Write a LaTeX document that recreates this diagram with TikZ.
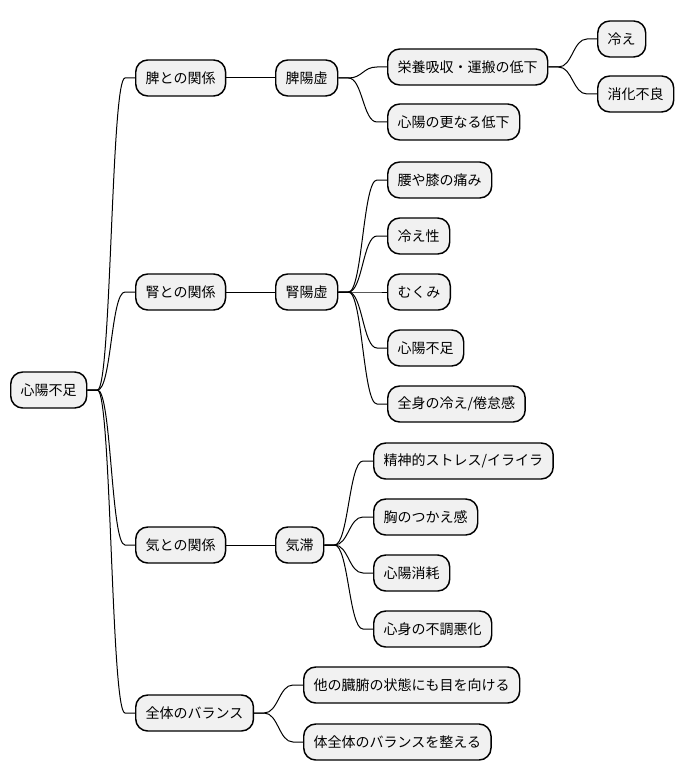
\documentclass[tikz,border=0pt]{standalone}
\usepackage{fontspec}
\setmainfont{Noto Sans CJK JP}
\usetikzlibrary{calc}
\tikzset{
  mm/.style={draw=black, line width=1.1pt, fill=black!5.5, rounded corners=9pt,
    minimum height=27pt, inner xsep=7.5pt, inner ysep=0pt, anchor=west,
    font=\fontsize{10.5pt}{12pt}\selectfont},
  conn/.style={draw=black, line width=0.75pt},
}
\newcommand\link[2]{\draw[conn] (#1.east) -- ([xshift=7.5pt]#1.east) .. controls ([xshift=18pt]#1.east) and ([xshift=-18pt]#2.west) .. ([xshift=-7.5pt]#2.west) -- (#2.west);}
\begin{document}
\begin{tikzpicture}[x=0.75pt,y=-0.75pt]
\useasboundingbox (0,0) rectangle (684,781);
\node[mm] (root) at (10,390) {心陽不足};
\node[mm] (hi) at (135,78) {脾との関係};
\node[mm] (jin) at (135,292) {腎との関係};
\node[mm] (ki) at (135,545) {気との関係};
\node[mm] (zen) at (135,713) {全体のバランス};
\node[mm] (hiyo) at (275,78) {脾陽虚};
\node[mm] (jinyo) at (275,292) {腎陽虚};
\node[mm] (kitai) at (275,545) {気滞};
\node[mm] (eiyo) at (387,67) {栄養吸収・運搬の低下};
\node[mm] (sarani) at (387,122) {心陽の更なる低下};
\node[mm] (hie1) at (597,39) {冷え};
\node[mm] (shoka) at (597,94) {消化不良};
\node[mm] (koshi) at (387,180) {腰や膝の痛み};
\node[mm] (hiesho) at (387,236) {冷え性};
\node[mm] (mukumi) at (387,292) {むくみ};
\node[mm] (shinyo) at (387,348) {心陽不足};
\node[mm] (zenshin) at (387,404) {全身の冷え/倦怠感};
\node[mm] (seishin) at (373,461) {精神的ストレス/イライラ};
\node[mm] (mune) at (373,517) {胸のつかえ感};
\node[mm] (shoumo) at (373,573) {心陽消耗};
\node[mm] (shinshin) at (373,629) {心身の不調悪化};
\node[mm] (hoka) at (303,685) {他の臓腑の状態にも目を向ける};
\node[mm] (karada) at (303,742) {体全体のバランスを整える};
\link{root}{hi}
\link{root}{jin}
\link{root}{ki}
\link{root}{zen}
\draw[conn] (hi) -- (hiyo);
\draw[conn] (jin) -- (jinyo);
\draw[conn] (ki) -- (kitai);
\link{hiyo}{eiyo}
\link{hiyo}{sarani}
\link{eiyo}{hie1}
\link{eiyo}{shoka}
\link{jinyo}{koshi}
\link{jinyo}{hiesho}
\link{jinyo}{mukumi}
\link{jinyo}{shinyo}
\link{jinyo}{zenshin}
\link{kitai}{seishin}
\link{kitai}{mune}
\link{kitai}{shoumo}
\link{kitai}{shinshin}
\link{zen}{hoka}
\link{zen}{karada}
\end{tikzpicture}
\end{document}
